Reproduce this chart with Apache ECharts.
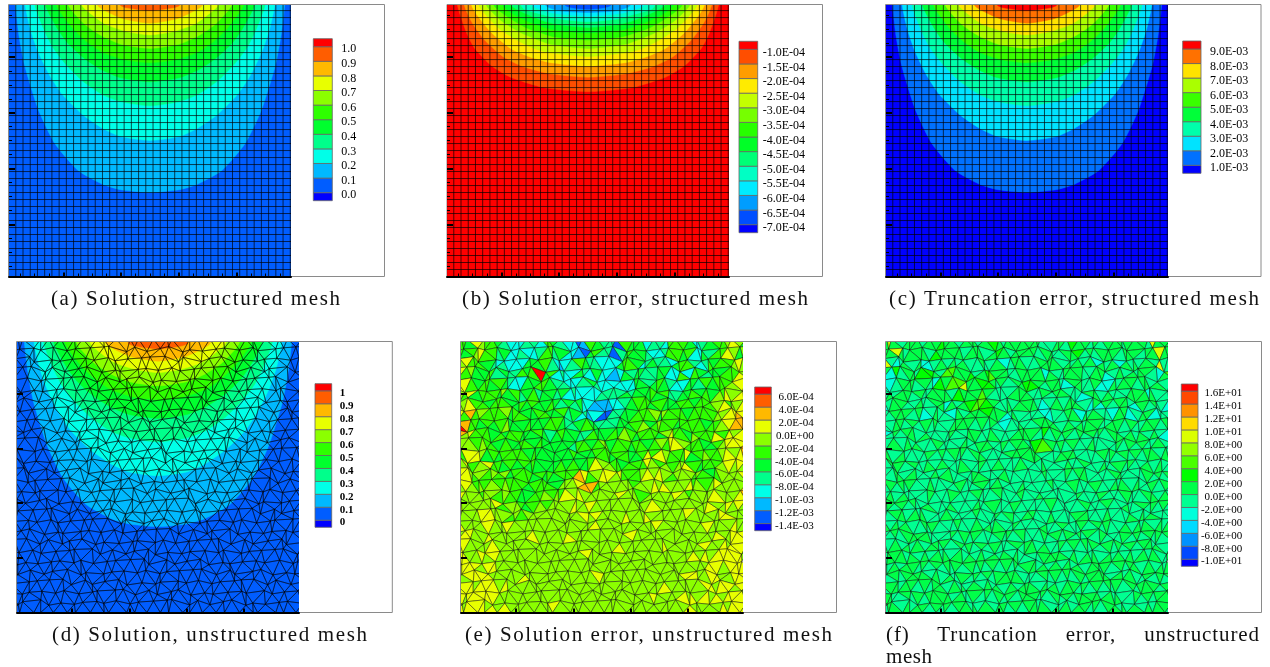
<!DOCTYPE html>
<html><head><meta charset="utf-8">
<style>html,body{margin:0;padding:0;background:#fff}#c{width:1270px;height:667px;filter:blur(.3px)}</style>
<script src="https://cdn.jsdelivr.net/npm/echarts@6/dist/echarts.min.js"></script>
</head><body><div id="c"></div>
<script>
// ---- legend labels (top to bottom)
const labelsA=['1.0','0.9','0.8','0.7','0.6','0.5','0.4','0.3','0.2','0.1','0.0'];
const labelsB=['-1.0E-04','-1.5E-04','-2.0E-04','-2.5E-04','-3.0E-04','-3.5E-04','-4.0E-04','-4.5E-04','-5.0E-04','-5.5E-04','-6.0E-04','-6.5E-04','-7.0E-04'];
const labelsC=['9.0E-03','8.0E-03','7.0E-03','6.0E-03','5.0E-03','4.0E-03','3.0E-03','2.0E-03','1.0E-03'];
const labelsD=['1','0.9','0.8','0.7','0.6','0.5','0.4','0.3','0.2','0.1','0'];
const labelsE=['6.0E-04','4.0E-04','2.0E-04','0.0E+00','-2.0E-04','-4.0E-04','-6.0E-04','-8.0E-04','-1.0E-03','-1.2E-03','-1.4E-03'];
const labelsF=['1.6E+01','1.4E+01','1.2E+01','1.0E+01','8.0E+00','6.0E+00','4.0E+00','2.0E+00','0.0E+00','-2.0E+00','-4.0E+00','-6.0E+00','-8.0E+00','-1.0E+01'];
// ---- contour lines: [half-width from centre, height]
const contoursSolution=[
 [[0,.30],[.101,.31],[.165,.33],[.25,.38],[.33,.476],[.386,.595],[.433,.75],[.453,.857],[.466,.97]],
 [[0,.486],[.101,.50],[.165,.53],[.235,.58],[.303,.65],[.348,.72],[.386,.80],[.413,.88],[.432,.97]],
 [[0,.61],[.101,.625],[.165,.65],[.235,.70],[.293,.76],[.337,.82],[.366,.88],[.398,.97]],
 [[0,.696],[.101,.71],[.17,.74],[.228,.78],[.281,.83],[.317,.88],[.362,.97]],
 [[0,.764],[.09,.775],[.162,.80],[.22,.84],[.27,.89],[.324,.97]],
 [[0,.815],[.101,.83],[.168,.86],[.225,.90],[.283,.97]],
 [[0,.863],[.08,.875],[.152,.90],[.194,.93],[.236,.97]],
 [[0,.905],[.09,.92],[.136,.94],[.182,.97]],
 [[0,.95],[.08,.96],[.103,.97]]
];
const contoursError=[
 [[0,.66],[.153,.675],[.268,.712],[.333,.752],[.392,.815],[.42,.87],[.452,.97]],
 [[0,.712],[.135,.725],[.23,.752],[.295,.786],[.358,.845],[.403,.91],[.428,.97]],
 [[0,.752],[.135,.765],[.205,.786],[.268,.815],[.333,.87],[.381,.93],[.403,.97]],
 [[0,.786],[.135,.80],[.187,.815],[.247,.845],[.312,.89],[.378,.97]],
 [[0,.815],[.13,.83],[.172,.845],[.23,.87],[.295,.91],[.352,.97]],
 [[0,.845],[.12,.857],[.161,.87],[.216,.89],[.281,.93],[.326,.97]],
 [[0,.87],[.11,.88],[.15,.89],[.205,.91],[.268,.943],[.295,.97]],
 [[0,.89],[.103,.90],[.144,.91],[.195,.93],[.266,.97]],
 [[0,.91],[.101,.92],[.136,.93],[.22,.955],[.232,.97]],
 [[0,.93],[.094,.937],[.13,.943],[.194,.97]],
 [[0,.943],[.10,.95],[.147,.97]],
 [[0,.955],[.08,.97]]
];
// ---- band index of every triangle, row by row from the top of the unstructured mesh (hex digit)
const cellsE=[
"66587665433344366543312654416555344366653345667875",
"78666543433355564323465443356653454435664346566787",
"8765566544456b665433345533324555445533365654556678",
"88656656543355665443334543333355456543355465666787",
"78665667565544655544333334444555656544555656677878",
"77866566655656556545453322334566656555665666786778",
"89676667665566556655443321445566767566566666778889",
"b9665656755565556654456554455567567665666656678999",
"98766565666556545655544565566765667568566766687898",
"87767665655665655555466567566566567688766655678889",
"88678656566565655556555656655665687866866567767898",
"78767866565656555565655687665666876767786566678787",
"87876767665666565656689768876676787876777656767787",
"78767676766656666577789967777767787877786767877778",
"87767777666556667677878777877767777787677777787798",
"87777778677656767777877877777777787777777778778787",
"77787787776767777777787877777877787777877777877877",
"87777877787777777777777787777777778777777787777877",
"78877787777777877777877777778777777777777777788788",
"88777787777777777777777777787777777877777787787887",
"87887877777777777777787777777777777777777878888878",
"88887887777777777777777777777777777777777778878888",
"88788787777787777777777877777777777777877887788788",
"88878887877777777777777777777777777877777788788787",
"88788887777777777777777777777777877777787878788878",
"87888787877777777877777777777777777777787777787888"];
const cellsF=[
"6a65666566766566656765666665566576656566656665a666",
"a5456564456565655655645665666656565646564656565a55",
"6746556775688665766856656646566565566545656664586",
"5456665654768a6677656566765665466556465665665656",
"5566665556656676685555665665655656456565566465655",
"45665565566465678876556566545656665464656654656554",
"56566655456455666766654565455465465656456654665455",
"55665656565566665656545565666656565665566565566565",
"46565565655655566555655666756565656565655656565654",
"55656565565555655665565665786565655655556565655655",
"45656556565656565565565666565566565565656565655656",
"56565655656555655655655565565556556556556565565655",
"56556565556565565565556555655565655655655655656565",
"56565655655556555655655565556555655565565656556565",
"55656556555655565556555655565555655565556555655656",
"56565655655565556556555655556555556555655655656565",
"56556565655565565556565556555655655655565556565655",
"65656556565556556565655655565565556565655656565656",
"56565665655656565556565655656565656565556565656565",
"65656565665656565656555656565565656565656565665656",
"56656565656565656565656565656656565656565656565665",
"65656656565656565656565656565656565665656566565656",
"66565665656566565656566565656565656566565656656565",
"56656656566565656565656566565656656565656565666565",
"65665656566565665656565656656565656656565665656566",
"56656566565656656565665656565656566565665656565665"];
// ---- layout of the six panels
const frames=[[8.5,4.5,376,272],[447,4.5,375.5,272],[885.5,4.5,375.5,272],[16.5,341.5,375.8,271],[460.5,341.5,376,271],[885.5,341.5,376,271]];
const rainbow=n=>Array.from({length:n},(_,i)=>{
  const t=i/(n-1)*4,s=Math.floor(Math.min(t,3.9999)),f=Math.round((t-s)*255);
  const c=[[0,f,255],[0,255,255-f],[f,255,0],[255,255-f,0]][s];
  return 'rgb('+c.join(',')+')';
});
const structuredMajorY=[.186,.386,.584,.784];
const structuredMinorY=[.036,.086,.136,.236,.286,.336,.436,.486,.536,.634,.684,.734,.834,.884,.934];
const minorX=[.05,.1,.15,.25,.3,.35,.45,.5,.55,.65,.7,.75,.85,.9,.95];
const panels=[
 {plot:[9,5,282,271.5],xr:[.012,.988],yr:[0,.97],majY:structuredMajorY,minY:structuredMinorY,minX:minorX,mesh:'s',contours:contoursSolution,bg:1,first:2,shift:0,
  legend:[313.3,38.7,19,162],labels:labelsA,text:{margin:9,align:'left',size:12,down:.12}},
 {plot:[447,5,282,271.5],xr:[.012,.988],yr:[0,.97],majY:structuredMajorY,minY:structuredMinorY,minX:minorX,mesh:'s',contours:contoursError,bg:13,first:12,dir:-1,shift:0,
  legend:[739,41.3,18.7,191.4],labels:labelsB,text:{margin:5,align:'left',size:12,down:.18}},
 {plot:[886,5,282,271.5],xr:[.012,.988],yr:[0,.97],majY:structuredMajorY,minY:structuredMinorY,minX:minorX,mesh:'s',contours:contoursSolution,bg:0,first:1,shift:0,
  legend:[1182.7,41,18.3,132.3],labels:labelsC,text:{margin:9,align:'left',size:12,down:.14}},
 {plot:[17,342,282,270.5],xr:[.008,.992],yr:[0,.989],majY:[.2,.4,.6,.8],minY:[],minX:[],mesh:'u',contours:contoursSolution,bg:1,first:2,shift:.014,
  legend:[315,383.7,16.7,143.6],labels:labelsD,text:{margin:8,align:'left',size:11,weight:'bold',down:.1}},
 {plot:[461,342,282,270.5],xr:[.008,.992],yr:[0,.989],majY:[.2,.4,.6,.8],minY:[],minX:[],mesh:'u',cells:cellsE,
  legend:[754.7,387,16.6,143.7],labels:labelsE,text:{margin:42.4,align:'right',size:11,down:.13}},
 {plot:[886,342,282,270.5],xr:[.008,.992],yr:[0,.989],majY:[.2,.4,.6,.8],minY:[],minX:[],mesh:'u',cells:cellsF,
  legend:[1181.3,384,16.7,182.3],labels:labelsF,text:{margin:44.3,align:'right',size:11,down:.1}}
];
const captions=[
 ['(a) Solution, structured mesh',51,288,289],
 ['(b) Solution error, structured mesh',462,288,346],
 ['(c) Truncation error, structured mesh',889,288,370],
 ['(d) Solution, unstructured mesh',52,624,315],
 ['(e) Solution error, unstructured mesh',465,624,367],
 ['(f) Truncation error, unstructured',886,624,374],
 ['mesh',886,648,46,16]
];
// ---- unstructured mesh nodes: a staggered lattice moved by the offset tables below
const nudgeX=[.3,-.7,.1,.9,-.4,.6,-.9,.2,-.2,.8,-.6,.5,-.1];
const nudgeY=[-.5,.8,.1,-.9,.4,-.2,.7,-.6,.9,0,-.8,.3,.6,-.3,-.7,.5,.2];
const meshRows=27,meshCols=25;
function node(r,c){
  const dx=1/meshCols,dy=1/meshRows;
  const x=(c-1+(r%2)/2)*dx+nudgeX[(r*5+c*3)%13]*.34*dx;
  const edge=r===0||r===meshRows;
  const y=1-r*dy+(edge?0:nudgeY[(r*7+c*2)%17]*.32*dy);
  return [x,y];
}
function triangles(){
  const out=[];
  for(let r=0;r<meshRows;r++){
    let k=0;
    for(let c=0;c<meshCols+1;c++){
      const a=node(r,c),b=node(r,c+1),p=node(r+1,c),q=node(r+1,c+1);
      const odd=r%2===1;
      const t1=odd?[a,b,q]:[a,b,p], t2=odd?[a,q,p]:[b,q,p];
      out.push([r,k++,...t1.flat()]);
      out.push([r,k++,...t2.flat()]);
    }
  }
  return out;
}
const tris=triangles();
const option={animation:false,backgroundColor:'#fff',grid:[],xAxis:[],yAxis:[],series:[],
  title:captions.map(c=>({text:c[0],left:c[1],top:c[2],padding:0,textStyle:{fontFamily:'Liberation Serif',fontWeight:'normal',fontSize:21,color:'#111',lineHeight:c[4]||20}})),
  graphic:frames.map(f=>({type:'rect',silent:true,z:0,shape:{x:f[0],y:f[1],width:f[2],height:f[3]},style:{fill:'#fff',stroke:'#8a8a8a',lineWidth:1}}))
};
const tickAxis=(dim,gi,range,vals,len,w,line)=>({type:'value',gridIndex:gi,min:range[0],max:range[1],position:dim==='x'?'bottom':'left',offset:0,z:6,
  axisLine:{show:!!line,onZero:false,lineStyle:{color:'#000',width:2}},splitLine:{show:false},axisLabel:{show:false},
  axisTick:{show:vals.length>0,inside:true,length:len,lineStyle:{color:'#000',width:w},customValues:vals}});
panels.forEach((p,i)=>{
  const gi=option.grid.length;
  option.grid.push({left:p.plot[0],top:p.plot[1],width:p.plot[2],height:p.plot[3]});
  option.grid.push({left:p.legend[0],top:p.legend[1],width:p.legend[2],height:p.legend[3]});
  const xi=option.xAxis.length,yi=option.yAxis.length;
  option.xAxis.push(tickAxis('x',gi,p.xr,p.minX,3,1,false),tickAxis('x',gi,p.xr,[.2,.4,.6,.8],4,2,true));
  option.yAxis.push(tickAxis('y',gi,p.yr,p.minY,3,1,false),tickAxis('y',gi,p.yr,p.majY,6,2,false));
  const n=p.labels.length,colors=rainbow(n+1);
  // filled bands
  if(p.contours){
    const items=[[p.bg,-1]].concat(p.contours.map((c,k)=>[p.dir===-1?p.first-k:p.first+k,k]));
    option.series.push({type:'custom',xAxisIndex:xi,yAxisIndex:yi,z:2,clip:true,silent:true,data:items,progressive:0,
      renderItem:(ps,api)=>{
        const k=api.value(1);let pts;
        if(k<0) pts=[[0,-.1],[1,-.1],[1,1.2],[0,1.2]].map(v=>api.coord(v));
        else{
          const c=p.contours[k].concat([[p.contours[k][p.contours[k].length-1][0]+.004,1.08]]);
          const left=c.slice().reverse().map(q=>[.5-q[0],q[1]+p.shift]);
          const right=c.slice(1).map(q=>[.5+q[0],q[1]+p.shift]);
          pts=left.concat(right).map(v=>api.coord(v));
        }
        return {type:'polygon',shape:{points:pts,smooth:k<0?0:.2},style:{fill:colors[api.value(0)],stroke:colors[api.value(0)],lineWidth:.5}};
      }});
  }
  if(p.mesh==='s'){
    const lines=[];
    for(let k=0;k<40;k++) lines.push([.0105+k*.025,-.1,.0105+k*.025,1.1]);
    for(let k=1;k<40;k++) lines.push([-.1,k*.025,1.1,k*.025]);
    option.series.push({type:'custom',xAxisIndex:xi,yAxisIndex:yi,z:3,clip:true,silent:true,data:lines,progressive:0,
      renderItem:(ps,api)=>{
        const a=api.coord([api.value(0),api.value(1)]),b=api.coord([api.value(2),api.value(3)]);
        return {type:'line',shape:{x1:a[0],y1:a[1],x2:b[0],y2:b[1]},style:{stroke:'rgba(0,0,0,.75)',lineWidth:.9}};
      }});
  }else{
    option.series.push({type:'custom',xAxisIndex:xi,yAxisIndex:yi,z:3,clip:true,silent:true,data:tris,progressive:0,
      renderItem:(ps,api)=>{
        const v=i=>api.value(i);
        const pts=[[v(2),v(3)],[v(4),v(5)],[v(6),v(7)]].map(q=>api.coord(q));
        let fill='none';
        if(p.cells){
          const row=p.cells[Math.floor(v(0)/meshRows*p.cells.length)];
          const ch=row.charAt(Math.floor(v(1)/(2*(meshCols+1))*row.length));
          fill=colors[Math.min(parseInt(ch,16),n)];
        }
        return {type:'polygon',shape:{points:pts},style:{fill:fill,stroke:'rgba(0,0,0,.72)',lineWidth:.6}};
      }});
  }
  // legend
  const xl=option.xAxis.length,yl=option.yAxis.length;
  const labelPos=p.labels.map((_,k)=>k-p.text.down);
  option.xAxis.push({type:'value',gridIndex:gi+1,min:0,max:1,show:false});
  option.yAxis.push({type:'value',gridIndex:gi+1,min:-.55,max:n-1+.55,position:'right',offset:0,
    axisLine:{show:false},splitLine:{show:false},
    axisTick:{show:false,customValues:labelPos},
    axisLabel:{show:true,customValues:labelPos,margin:p.text.margin,align:p.text.align,
      fontFamily:'Liberation Serif',fontSize:p.text.size,fontWeight:p.text.weight||'normal',color:'#000',
      formatter:v=>p.labels[n-1-Math.round(v)]}});
  const bands=colors.map((_,k)=>[k===0?-.55:k-1,k===n?n-1+.55:k,k]);
  option.series.push({type:'custom',xAxisIndex:xl,yAxisIndex:yl,z:3,silent:true,data:bands,progressive:0,
    renderItem:(ps,api)=>{
      const a=api.coord([0,api.value(0)]),b=api.coord([1,api.value(1)]);
      return {type:'rect',shape:{x:a[0],y:b[1],width:b[0]-a[0],height:a[1]-b[1]},style:{fill:colors[api.value(2)],stroke:'#666',lineWidth:.8}};
    }});
});
const chart=echarts.init(document.getElementById('c'),null,{renderer:'svg',width:1270,height:667});
chart.setOption(option);
function fit(){
  document.querySelectorAll('#c text').forEach(t=>{
    const cap=captions.find(c=>c[0]===t.textContent);
    if(!cap)return;
    t.style.letterSpacing='0px';t.style.wordSpacing='0px';
    const extra=cap[3]-t.getComputedTextLength();
    if(cap[0].startsWith('(f)')){
      t.style.letterSpacing='.9px';
      t.style.wordSpacing=((cap[3]-t.getComputedTextLength())/3)+'px';
    }else t.style.letterSpacing=(extra/(cap[0].length-1))+'px';
  });
}
fit();chart.on('finished',fit);
</script></body></html>
